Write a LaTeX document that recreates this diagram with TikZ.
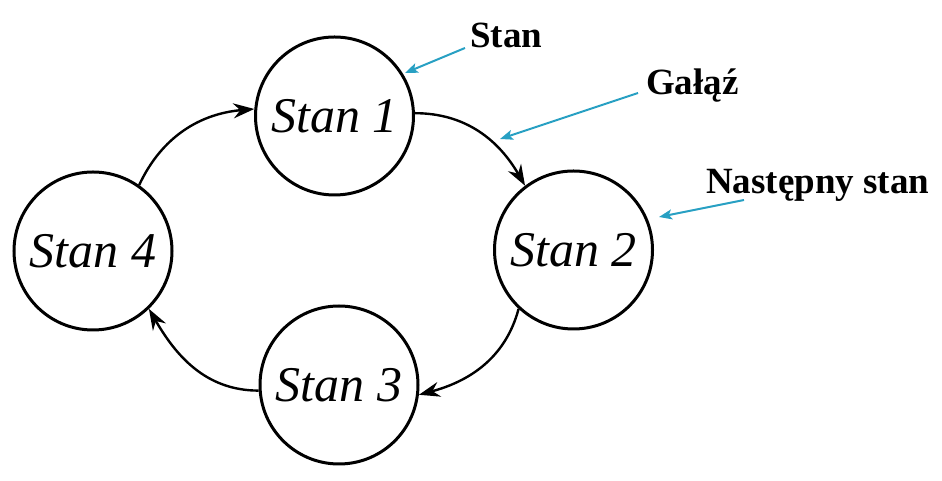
\documentclass[tikz,border=0pt]{standalone}
\usepackage{fontspec}
\setmainfont{Liberation Serif}
\usepackage{tikz}
\usetikzlibrary{arrows.meta}
\definecolor{linkblue}{RGB}{40,160,195}

\begin{document}
\begin{tikzpicture}[x=1pt, y=1pt,
    state/.style={circle, draw, line width=3pt, minimum size=158pt, inner sep=0pt,
        font=\fontsize{50}{54}\selectfont\itshape},
    trans/.style={line width=2.4pt, -{Stealth[length=21pt, width=15pt, inset=7pt]}},
    note/.style={anchor=base west, inner sep=0pt, font=\fontsize{37}{40}\selectfont\bfseries},
    pointer/.style={linkblue, line width=2pt, -{Stealth[length=13pt, width=10pt, inset=3pt]}}]
    \useasboundingbox (0, 0) rectangle (942, 481);

    \node[state] (s1) at (334.5, 365) {Stan 1};
    \node[state] (s2) at (573.5, 231) {Stan 2};
    \node[state] (s3) at (339, 96) {Stan 3};
    \node[state] (s4) at (93, 230) {Stan 4};

    \draw[trans] (s1.2) to[out=0, in=120] (s2.127);
    \draw[trans] (s2.227) to[out=255, in=15] (s3.353);
    \draw[trans] (s3.184) to[out=180, in=-60] (s4.314);
    \draw[trans] (s4.55) to[out=65, in=185] (s1.175);

    \node[note] (lstan) at (470, 433) {Stan};
    \node[note] (lgal) at (646, 386) {Gałąź};
    \node[note] (lnast) at (706, 287) {Następny stan};

    \coordinate (p1) at (465, 433);
    \coordinate (q1) at (405, 408);
    \coordinate (p2) at (638, 388);
    \coordinate (q2) at (500, 342);
    \coordinate (p3) at (744, 281);
    \coordinate (q3) at (659, 264);

    \draw[pointer] (p1) -- (q1);
    \draw[pointer] (p2) -- (q2);
    \draw[pointer] (p3) -- (q3);
\end{tikzpicture}
\end{document}
